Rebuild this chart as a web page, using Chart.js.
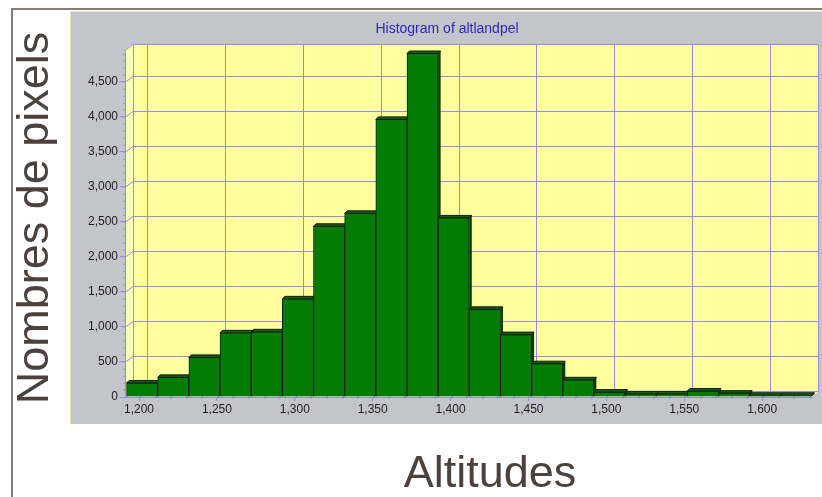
<!DOCTYPE html>
<html><head><meta charset="utf-8">
<script src="https://cdn.jsdelivr.net/npm/chart.js@4.4.1/dist/chart.umd.min.js"></script>
<style>html,body{margin:0;padding:0;background:#fff;}canvas{display:block;}</style>
</head><body>
<canvas id="c" width="822" height="497"></canvas>
<script>
// ---- data ----
const binCenters = [1202,1222,1242,1262,1282,1302,1322,1342,1362,1382,1402,1422,1442,1462,1482,1502,1522,1542,1562,1582,1602,1622];
const pixelCounts = [200,280,565,915,930,1400,2435,2620,3960,4900,2555,1250,890,475,245,70,45,45,85,55,25,25];
const xTickValues = [1200,1250,1300,1350,1400,1450,1500,1550,1600];
const yTickValues = [0,500,1000,1500,2000,2500,3000,3500,4000,4500];
const chartTitle = 'Histogram of altlandpel';
const xAxisTitle = 'Altitudes';
const yAxisTitle = 'Nombres de pixels';

// ---- styling ----
const DX = 8, DY = -6;
const GRID = '#958ee6';
const FONT = '"Liberation Sans", Arial, sans-serif';
const fmt = v => Number(v).toLocaleString('en-US');

const decor = {
  id: 'decor',
  beforeDraw(chart) {
    const ctx = chart.ctx, a = chart.chartArea;
    const xs = chart.scales.x, ys = chart.scales.y;
    ctx.save();
    ctx.fillStyle = '#ffffff';
    ctx.fillRect(0, 0, chart.width, chart.height);
    // outer frame
    ctx.strokeStyle = '#877c76';
    ctx.lineWidth = 2;
    ctx.beginPath();
    ctx.moveTo(12, 497); ctx.lineTo(12, 9); ctx.lineTo(822, 9);
    ctx.stroke();
    // gray panel
    ctx.fillStyle = '#c4c4cc';
    ctx.fillRect(70, 11, 752, 413);
    ctx.strokeStyle = '#eee7b2';
    ctx.lineWidth = 1;
    ctx.beginPath();
    ctx.moveTo(70.5, 424); ctx.lineTo(70.5, 11.5); ctx.lineTo(822, 11.5);
    ctx.stroke();
    // 3D wall (yellow)
    const L = a.left, R = a.right, T = a.top, B = a.bottom;
    const WR = Math.min(R + DX, 819);
    ctx.fillStyle = '#ffff9e';
    ctx.beginPath();
    ctx.moveTo(L, T); ctx.lineTo(L + DX, T + DY); ctx.lineTo(WR, T + DY);
    ctx.lineTo(WR, B + DY); ctx.lineTo(R, B); ctx.lineTo(L, B); ctx.closePath();
    ctx.fill();
    ctx.fillStyle = '#fbfbb4';
    ctx.beginPath();
    ctx.moveTo(L, T); ctx.lineTo(L + DX, T + DY); ctx.lineTo(L + DX, B + DY); ctx.lineTo(L, B); ctx.closePath();
    ctx.fill();
    // back-wall grid
    ctx.strokeStyle = GRID;
    ctx.lineWidth = 1;
    ctx.beginPath();
    xs.ticks.forEach(t => {
      const x = Math.round(xs.getPixelForValue(t.value)) + 0.5;
      ctx.moveTo(x, B); ctx.lineTo(x + DX, B + DY); ctx.lineTo(x + DX, T + DY);
    });
    ys.ticks.forEach(t => {
      const y = Math.round(ys.getPixelForValue(t.value)) + 0.5;
      ctx.moveTo(L, y); ctx.lineTo(L + DX, y + DY); ctx.lineTo(WR, y + DY);
    });
    // wall outline
    ctx.moveTo(L + DX + 0.5, B + DY); ctx.lineTo(L + DX + 0.5, T + DY + 0.5);
    ctx.lineTo(WR - 0.5, T + DY + 0.5); ctx.lineTo(WR - 0.5, B + DY);
    ctx.moveTo(L, T + 0.5); ctx.lineTo(L + DX, T + DY + 0.5);
    ctx.stroke();
    // minor ticks on axes
    ctx.beginPath();
    for (let v = 100; v < ys.max; v += 100) {
      const y = Math.round(ys.getPixelForValue(v)) + 0.5;
      ctx.moveTo(L - 2, y); ctx.lineTo(L + 1, y - 1);
    }
    for (let v = 1200; v < xs.max; v += 10) {
      const x = Math.round(xs.getPixelForValue(v)) + 0.5;
      ctx.moveTo(x, B + 2); ctx.lineTo(x + 1, B - 1);
    }
    ctx.stroke();
    ctx.restore();
  },
  beforeDatasetsDraw(chart) {
    const ctx = chart.ctx;
    const meta = chart.getDatasetMeta(0);
    const d = 2.5;
    ctx.save();
    ctx.beginPath();
    ctx.rect(chart.chartArea.left, chart.chartArea.top - 10, chart.chartArea.width + 10, chart.chartArea.height + 10);
    ctx.clip();
    meta.data.forEach(el => {
      const p = el.getProps(['x', 'y', 'base', 'width'], true);
      const l = p.x - p.width / 2, r = p.x + p.width / 2;
      ctx.fillStyle = '#0b3a0b';
      ctx.beginPath();
      ctx.moveTo(r, p.y); ctx.lineTo(r + d, p.y - d); ctx.lineTo(r + d, p.base - d); ctx.lineTo(r, p.base); ctx.closePath();
      ctx.fill();
      ctx.fillStyle = '#1c5a1c';
      ctx.strokeStyle = '#0b1f0b';
      ctx.lineWidth = 1;
      ctx.beginPath();
      ctx.moveTo(l, p.y); ctx.lineTo(l + d, p.y - d); ctx.lineTo(r + d, p.y - d); ctx.lineTo(r, p.y); ctx.closePath();
      ctx.fill(); ctx.stroke();
    });
    ctx.restore();
  },
  afterDraw(chart) {
    const ctx = chart.ctx;
    ctx.save();
    ctx.fillStyle = '#2b2bb8';
    ctx.font = '14px ' + FONT;
    ctx.textAlign = 'center';
    ctx.textBaseline = 'middle';
    ctx.fillText(chartTitle, 447, 29);
    // axis titles
    ctx.fillStyle = '#4b423e';
    ctx.font = '45px ' + FONT;
    ctx.textBaseline = 'alphabetic';
    ctx.fillText(xAxisTitle, 490, 487);
    ctx.translate(48, 218);
    ctx.rotate(-Math.PI / 2);
    ctx.fillText(yAxisTitle, 0, 0);
    ctx.restore();
  }
};

new Chart(document.getElementById('c'), {
  type: 'bar',
  data: {
    datasets: [{
      data: binCenters.map((x, i) => ({ x: x, y: pixelCounts[i] })),
      backgroundColor: '#037c03',
      borderColor: '#0a1d0a',
      borderWidth: 1,
      barPercentage: 1,
      categoryPercentage: 1
    }]
  },
  options: {
    responsive: false,
    animation: false,
    devicePixelRatio: 1,
    layout: { padding: { left: 0, top: 50, right: 10, bottom: 0 } },
    plugins: { legend: { display: false }, tooltip: { enabled: false }, title: { display: false } },
    scales: {
      x: {
        type: 'linear',
        offset: false,
        min: 1191, max: 1632,
        afterFit: s => { s.height = 100; },
        afterBuildTicks: s => { s.ticks = xTickValues.map(v => ({ value: v })); },
        ticks: { callback: fmt, padding: 1, maxRotation: 0, autoSkip: false,
                 color: '#1e1e1e', font: { family: FONT, size: 12 } },
        grid: { offset: false, drawOnChartArea: false, tickLength: 4, color: GRID },
        border: { display: true, color: GRID },
        title: { display: false, text: xAxisTitle }
      },
      y: {
        min: 0, max: 4950,
        afterFit: s => { s.width = 125; },
        afterBuildTicks: s => { s.ticks = yTickValues.map(v => ({ value: v })); },
        ticks: { callback: fmt, padding: 2, autoSkip: false,
                 color: '#1e1e1e', font: { family: FONT, size: 12 } },
        grid: { drawOnChartArea: false, tickLength: 5, color: GRID },
        border: { display: true, color: GRID },
        title: { display: false, text: yAxisTitle }
      }
    }
  },
  plugins: [decor]
});
</script>
</body></html>
